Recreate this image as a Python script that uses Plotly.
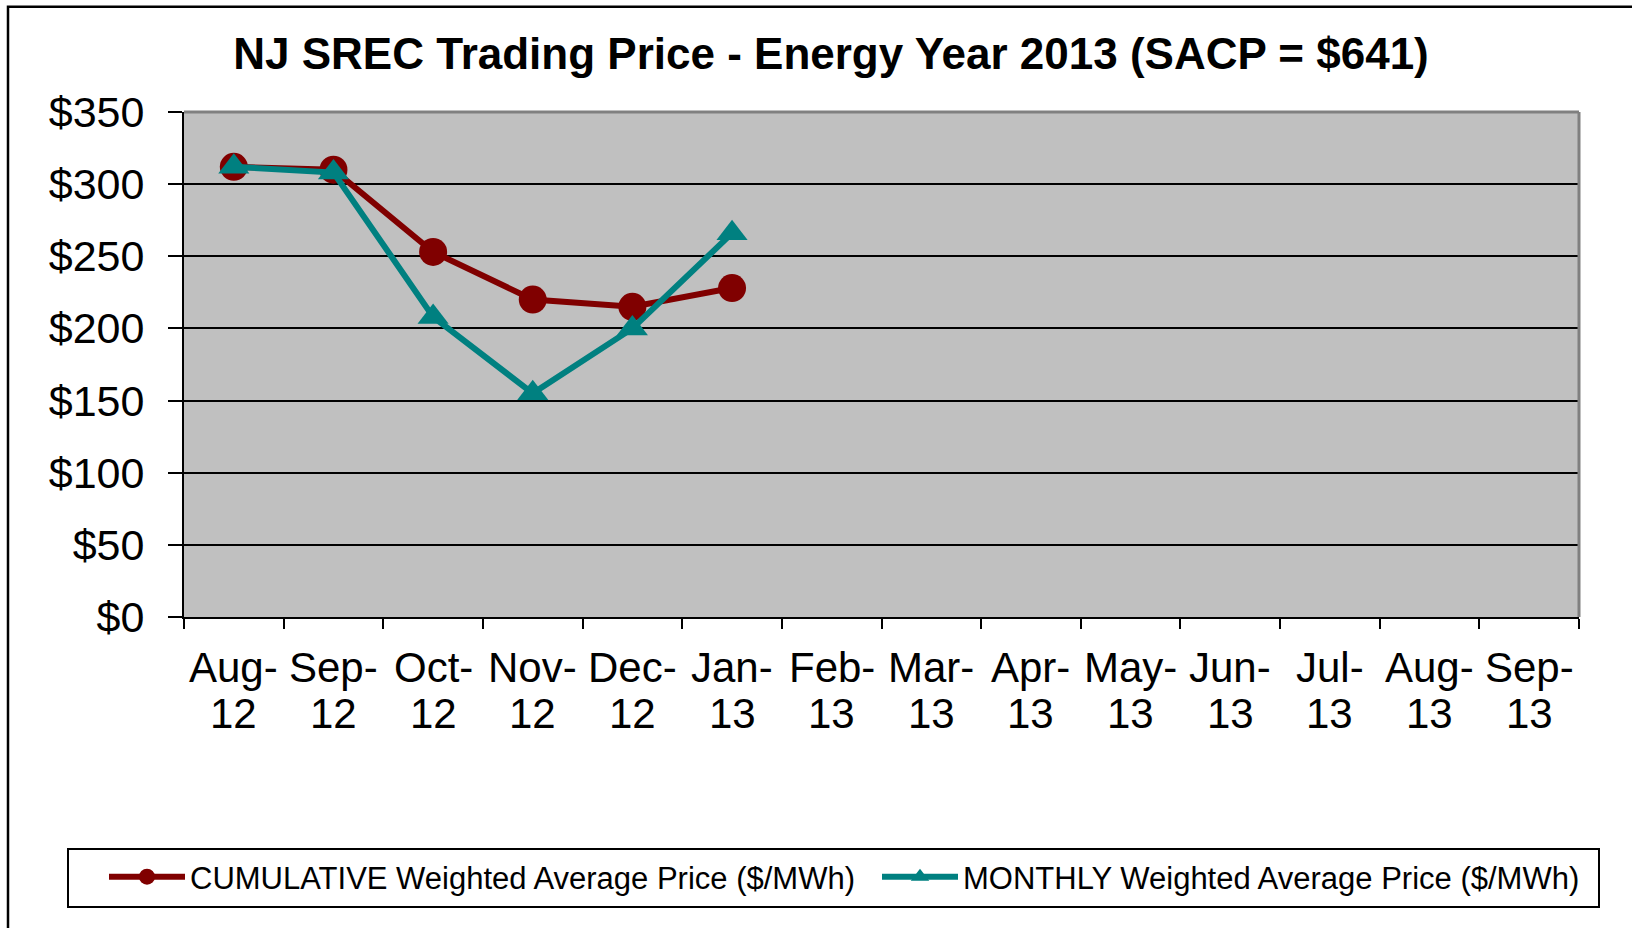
import plotly.graph_objects as go

# ---- data ----
months = ["Aug-12", "Sep-12", "Oct-12", "Nov-12", "Dec-12", "Jan-13", "Feb-13",
          "Mar-13", "Apr-13", "May-13", "Jun-13", "Jul-13", "Aug-13", "Sep-13"]
traded_months = months[:6]
cumulative = [312, 310, 253, 220, 215, 228]
monthly = [312, 308, 208, 155, 200, 266]
series_names = ["CUMULATIVE Weighted Average Price ($/MWh)",
                "MONTHLY Weighted Average Price ($/MWh)"]
title_text = "NJ SREC Trading Price - Energy Year 2013 (SACP = $641)"
y_ticks = [0, 50, 100, 150, 200, 250, 300, 350]
y_tick_labels = ["$" + str(v) for v in y_ticks]

FONT = "Liberation Sans, Arial, Helvetica, sans-serif"
W, H = 1632, 928
L, R, T, B = 184, 1579, 111.5, 617.5
PW, PH = R - L, B - T
ITEMW = 76


def fx(px):
    return (px - L) / PW


def fy(py):
    return (B - py) / PH


fig = go.Figure()
fig.add_trace(go.Scatter(
    x=traded_months, y=cumulative, name=series_names[0], mode="lines+markers",
    line=dict(color="#800000", width=6),
    marker=dict(symbol="circle", size=28, color="#800000"),
    legend="legend",
))
fig.add_trace(go.Scatter(
    x=traded_months, y=monthly, name=series_names[1], mode="lines+markers",
    line=dict(color="#008080", width=6),
    marker=dict(symbol="triangle-up", size=27, color="#008080"),
    legend="legend2",
))

annotations = []
for m in months:
    a, b = m.split("-")
    annotations.append(dict(x=m, xref="x", y=fy(668), yref="paper", text=a + "-",
                            showarrow=False, xanchor="center", yanchor="middle",
                            font=dict(family=FONT, size=42, color="black")))
    annotations.append(dict(x=m, xref="x", y=fy(714), yref="paper", text=b,
                            showarrow=False, xanchor="center", yanchor="middle",
                            font=dict(family=FONT, size=42, color="black")))

shapes = [
    # outer chart frame (extends past the image on right and bottom)
    dict(type="rect", xref="paper", yref="paper", x0=fx(8), x1=fx(1700),
         y0=fy(1000), y1=fy(6), line=dict(color="black", width=2.5), layer="below"),
    # plot area top / right border (gray)
    dict(type="line", xref="paper", yref="paper", x0=0, x1=1, y0=1, y1=1,
         line=dict(color="#808080", width=3), layer="above"),
    dict(type="line", xref="paper", yref="paper", x0=1, x1=1, y0=0, y1=1,
         line=dict(color="#808080", width=3), layer="above"),
    # legend box
    dict(type="rect", xref="paper", yref="paper", x0=fx(68), x1=fx(1599),
         y0=fy(908), y1=fy(850), line=dict(color="black", width=2), layer="below"),
]

legend_common = dict(orientation="h", xanchor="left", yanchor="middle",
                     bgcolor="rgba(0,0,0,0)", borderwidth=0, itemwidth=ITEMW,
                     font=dict(family=FONT, size=31, color="black"))

fig.update_layout(
    width=W, height=H, autosize=False,
    margin=dict(l=L, r=W - R, t=T, b=H - B, pad=0),
    paper_bgcolor="white", plot_bgcolor="#C0C0C0",
    font=dict(family=FONT, color="black"),
    title=dict(text="<b>" + title_text + "</b>", xref="container", yref="container",
               x=831 / W, y=1 - 54 / H, xanchor="center", yanchor="middle",
               font=dict(family=FONT, size=44, color="black")),
    xaxis=dict(type="category", categoryorder="array", categoryarray=months,
               range=[-0.5, len(months) - 0.5], tickson="boundaries",
               ticks="outside", ticklen=10, tickwidth=2, tickcolor="black",
               showticklabels=False, showline=True, linecolor="black", linewidth=2,
               showgrid=False, zeroline=False, fixedrange=True),
    yaxis=dict(range=[0, 350], tickmode="array", tickvals=y_ticks, ticktext=y_tick_labels,
               ticks="outside", ticklen=14, tickwidth=2, tickcolor="black",
               tickfont=dict(family=FONT, size=43, color="black"),
               ticklabelstandoff=15,
               showline=True, linecolor="black", linewidth=2,
               showgrid=True, gridcolor="black", gridwidth=2,
               zeroline=False, fixedrange=True),
    showlegend=True,
    legend=dict(x=fx(190 - ITEMW - 10), y=fy(878), **legend_common),
    legend2=dict(x=fx(963 - ITEMW - 10), y=fy(878), **legend_common),
    annotations=annotations,
    shapes=shapes,
)

fig.write_html("out.html", config={"displayModeBar": False},
               post_script="document.body.style.margin='0';")
